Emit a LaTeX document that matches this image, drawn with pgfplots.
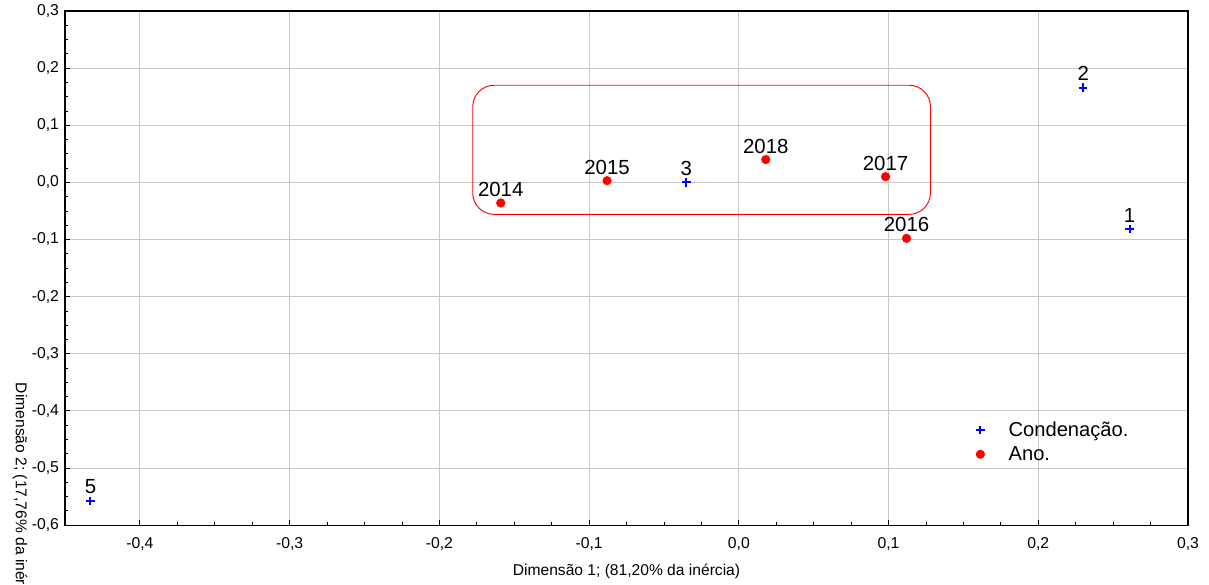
\documentclass[border=0pt]{standalone}
\usepackage{pgfplots}
\pgfplotsset{compat=1.18}
\usepackage{fontspec}
\setmainfont{Liberation Sans}
\definecolor{gridgray}{RGB}{200,200,200}
\begin{document}
\begin{tikzpicture}
\begin{axis}[
  scale only axis,
  width=842pt, height=385.5pt,
  xmin=-0.45, xmax=0.3, ymin=-0.6, ymax=0.3,
  xtick={-0.4,-0.3,-0.2,-0.1,0,0.1,0.2,0.3},
  ytick={-0.6,-0.5,-0.4,-0.3,-0.2,-0.1,0,0.1,0.2,0.3},
  minor tick num=3,
  tick pos=left, tick align=inside,
  major tick length=3.5pt, minor tick length=2.5pt,
  grid=major,
  major grid style={gridgray, line width=0.6pt},
  axis line style={black, line width=0.8pt},
  every tick/.style={black, line width=0.6pt},
  /pgf/number format/assume math mode=true,
  /pgf/number format/use comma,
  /pgf/number format/fixed,
  /pgf/number format/fixed zerofill,
  /pgf/number format/precision=1,
  ticklabel style={font=\fontsize{11.8pt}{13pt}\selectfont},
  xticklabel style={yshift=-6pt},
  yticklabel style={xshift=-1pt},
  xlabel={Dimensão 1; (81,20\% da inércia)},
  xlabel style={font=\fontsize{11.7pt}{13pt}\selectfont, yshift=-3pt},
  legend style={draw=none, fill=none, at={(rel axis cs:0.8075,0.212)}, anchor=north west,
    font=\fontsize{15.1pt}{17pt}\selectfont, row sep=2pt,
    /tikz/every odd column/.style={column sep=16pt}},
  legend cell align=left,
  nodes near coords,
  point meta=explicit symbolic,
  nodes near coords style={anchor=south, inner sep=0pt, yshift=4.5pt, text=black,
    font=\fontsize{15.3pt}{17pt}\selectfont},
]
\addplot[only marks, mark=+, blue, mark size=3.2pt, line width=1.5pt] table[meta=lab] {
x y lab
-0.433 -0.558 5
0.230 0.166 2
0.261 -0.082 1
-0.035 0.000 3
};
\addlegendentry{Condenação.}
\addplot[only marks, mark=*, red, mark size=3.2pt] table[meta=lab] {
x y lab
-0.159 -0.036 2014
-0.088 0.003 2015
0.112 -0.098 2016
0.098 0.010 2017
0.018 0.040 2018
};
\addlegendentry{Ano.}
\draw[red, line width=0.7pt, rounded corners=16pt] (axis cs:-0.1777,-0.056) rectangle (axis cs:0.128,0.170);
\end{axis}
\node[rotate=-90, font=\fontsize{11.7pt}{13pt}\selectfont] at ([xshift=-33.75pt,yshift=21.4pt]current axis.south west) {Dimensão 2; (17,76\% da inércia)};
\pgfresetboundingbox
\useasboundingbox ([xshift=-48.75pt,yshift=-44.25pt]current axis.south west) rectangle ([xshift=15.75pt,yshift=8.25pt]current axis.north east);
\end{tikzpicture}
\end{document}
